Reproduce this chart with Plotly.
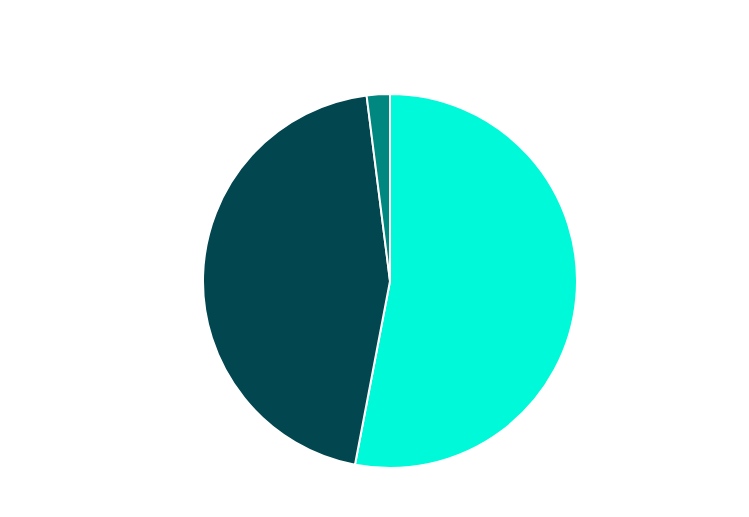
import plotly.graph_objects as go

labels = ["A", "B", "C"]
values = [53.0, 45.0, 2.0]
colors = ["#00F9D9", "#02464F", "#00877F"]

fig = go.Figure(
    go.Pie(
        labels=labels,
        values=values,
        sort=False,
        direction="clockwise",
        rotation=0,
        textinfo="none",
        hoverinfo="label+percent",
        marker=dict(colors=colors, line=dict(color="white", width=2)),
        showlegend=False,
    )
)

fig.update_layout(
    width=749,
    height=517,
    paper_bgcolor="white",
    margin=dict(l=72, r=57, t=86, b=57),
)

fig.write_html("out.html")
